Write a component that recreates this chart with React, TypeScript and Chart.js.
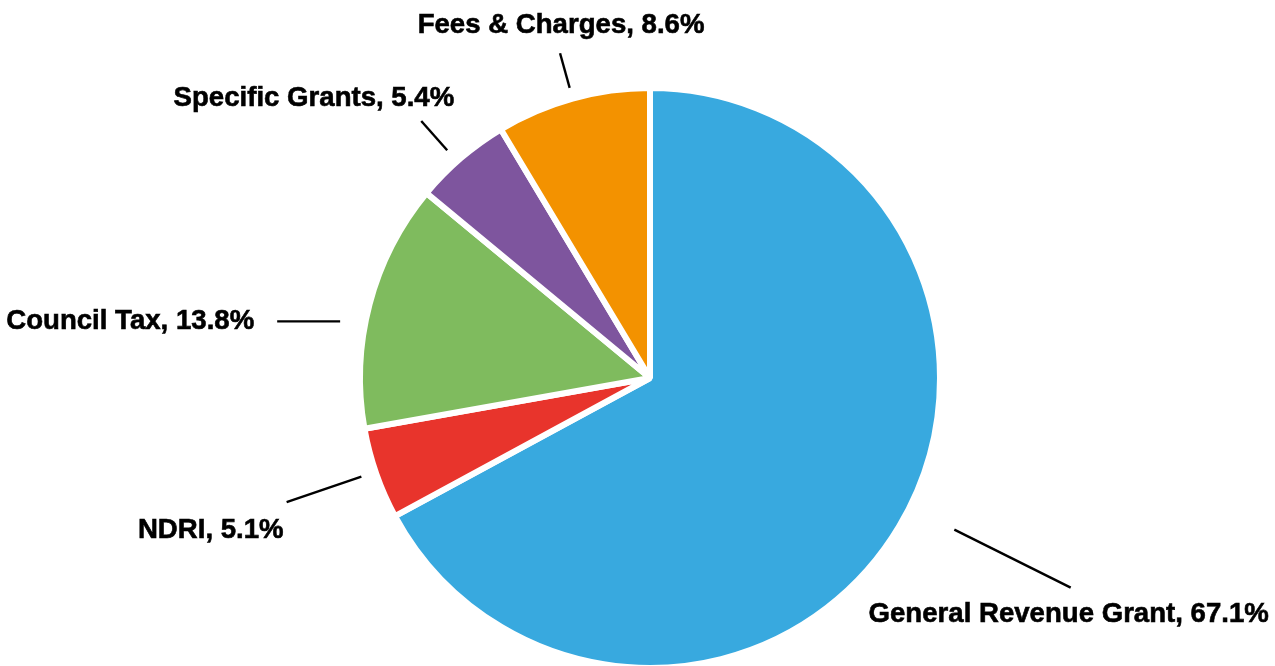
import React, { useEffect, useRef } from "react";
import { Chart, registerables } from "chart.js";

Chart.register(...registerables);

const categories = ["General Revenue Grant", "NDRI", "Council Tax", "Specific Grants", "Fees & Charges"];
const shares = [67.1, 5.1, 13.8, 5.4, 8.6];
const sliceColors = ["#38A9DF", "#E8342C", "#7FBB5E", "#7E559E", "#F39200"];

// leader-line / label layout per slice: angle shift from slice middle (deg), line radii, text offset from line end
const labelLayout = [
  { shift: -4.3, r1: 340, r2: 470, dx: -2, dy: 34, align: "center" },
  { shift: 0.4, r1: 305, r2: 384, dx: -3, dy: 36, align: "right" },
  { shift: -4.4, r1: 315, r2: 379, dx: -23, dy: 8, align: "right", horizontal: true },
  { shift: -1.0, r1: 305, r2: 344, dx: 33, dy: -15, align: "right" },
  { shift: 0.0, r1: 301, r2: 337, dx: 1, dy: -20, align: "center" },
];

const labelPlugin = {
  id: "pieLabels",
  afterDatasetsDraw(chart: any) {
    const { ctx } = chart;
    const meta = chart.getDatasetMeta(0);
    const data = chart.data.datasets[0].data as number[];
    const total = data.reduce((a, b) => a + b, 0);
    ctx.save();
    ctx.font = "bold 27.6px 'Liberation Sans', Arial, sans-serif";
    ctx.fillStyle = "#000";
    ctx.strokeStyle = "#000";
    ctx.lineWidth = 2.4;
    ctx.textBaseline = "alphabetic";
    meta.data.forEach((arc: any, i: number) => {
      const lay = labelLayout[i];
      const { x: cx, y: cy, startAngle, endAngle } = arc.getProps(["x", "y", "startAngle", "endAngle"], true);
      const mid = (startAngle + endAngle) / 2 + (lay.shift * Math.PI) / 180;
      const x1 = cx + Math.cos(mid) * lay.r1;
      const y1 = cy + Math.sin(mid) * lay.r1;
      let x2 = cx + Math.cos(mid) * lay.r2;
      let y2 = cy + Math.sin(mid) * lay.r2;
      if (lay.horizontal) {
        y2 = y1;
        x2 = x1 + Math.cos(mid) * (lay.r2 - lay.r1);
      }
      ctx.beginPath();
      ctx.moveTo(x1, y1);
      ctx.lineTo(x2, y2);
      ctx.stroke();
      ctx.textAlign = lay.align;
      const pct = ((data[i] / total) * 100).toFixed(1);
      const text = `${chart.data.labels[i]}, ${pct}%`;
      const tx = x2 + lay.dx;
      const ty = y2 + lay.dy;
      ctx.lineWidth = 0.6;
      ctx.strokeText(text, tx, ty);
      ctx.fillText(text, tx, ty);
      ctx.lineWidth = 2.4;
    });
    ctx.restore();
  },
};

export default function App() {
  const ref = useRef<HTMLCanvasElement | null>(null);
  useEffect(() => {
    if (!ref.current) return;
    const chart = new Chart(ref.current, {
      type: "pie",
      data: {
        labels: categories,
        datasets: [
          {
            data: shares,
            backgroundColor: sliceColors,
            borderColor: "#ffffff",
            borderWidth: 6,
            radius: 290,
          } as any,
        ],
      },
      options: {
        responsive: false,
        animation: false,
        layout: { padding: { left: 25, right: 0, top: 90, bottom: 0 } },
        plugins: { legend: { display: false }, tooltip: { enabled: false } },
      },
      plugins: [labelPlugin],
    });
    return () => chart.destroy();
  }, []);
  return (
    <div style={{ position: "absolute", left: 0, top: 0, width: 1275, height: 666, background: "#fff" }}>
      <canvas ref={ref} width={1275} height={666} />
    </div>
  );
}
